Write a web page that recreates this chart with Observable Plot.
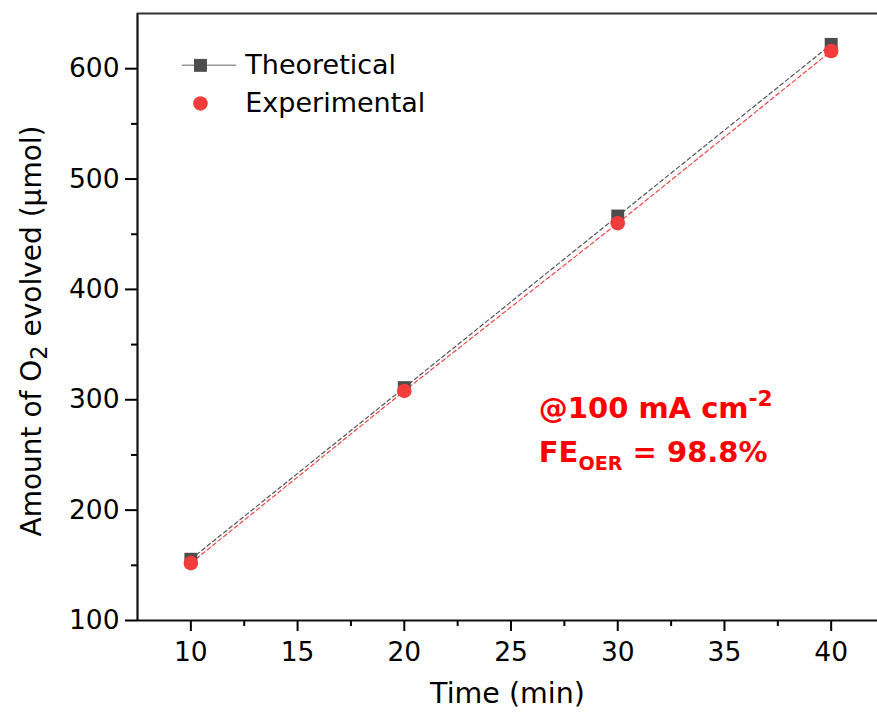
<!DOCTYPE html>
<html>
<head>
<meta charset="utf-8">
<script src="https://cdn.jsdelivr.net/npm/d3@7"></script>
<script src="https://cdn.jsdelivr.net/npm/@observablehq/plot@0.6"></script>
<style>
  body { margin: 0; background: #fff; }
  #chart svg { display: block; }
</style>
</head>
<body>
<div id="chart"></div>
<script>
// Electrolysis time (min) and O2 amounts (µmol)
const times = [10, 20, 30, 40];
const theoretical = [155.5, 311, 466.5, 622];
const experimental = [152, 308, 460, 616];

// Axis ticks
const xTickValues = [10, 15, 20, 25, 30, 35, 40];
const xMinorTicks = [12.5, 17.5, 22.5, 27.5, 32.5, 37.5];
const yTickValues = [100, 200, 300, 400, 500, 600];
const yMinorTicks = [150, 250, 350, 450, 550];

// Texts (_{..} = subscript, ^{..} = superscript)
const seriesNames = ["Theoretical", "Experimental"];
const xLabel = "Time (min)";
const yLabel = "Amount of O_{2} evolved (μmol)";
const noteLines = ["@100 mA cm^{-2}", "FE_{OER} = 98.8%"];

const theoData = times.map((t, i) => ({time: t, amount: theoretical[i]}));
const expData = times.map((t, i) => ({time: t, amount: experimental[i]}));

// Legend rows, anchored in data space at the top-left corner of the frame
const legendRows = [
  {name: seriesNames[0], y: 603},
  {name: seriesNames[1], y: 568.5}
];
const legendLine = [{time: 9.6, amount: 603}, {time: 12.1, amount: 603}];

const notes = [
  {text: noteLines[0], time: 26.3, amount: 292},
  {text: noteLines[1], time: 26.3, amount: 252}
];

const grey = "#4d4d4d";
const red = "#f23c3c";

const plot = Plot.plot({
  width: 877,
  height: 717,
  marginLeft: 137,
  marginRight: 0,
  marginTop: 13,
  marginBottom: 97,
  style: {fontFamily: "'DejaVu Sans', sans-serif", color: "#000", background: "#fff"},
  x: {domain: [7.5, 42.17]},
  y: {domain: [100, 650]},
  marks: [
    // axes
    Plot.axisX({ticks: xTickValues, tickSize: 11, tickPadding: 11, fontSize: 26.5, strokeWidth: 2, label: null}),
    Plot.axisX(xMinorTicks, {tickSize: 6, tickFormat: () => "", strokeWidth: 2, label: null}),
    Plot.axisY({ticks: yTickValues, tickSize: 12, tickPadding: 6, fontSize: 26.5, strokeWidth: 2, label: null}),
    Plot.axisY(yMinorTicks, {tickSize: 6, tickFormat: () => "", strokeWidth: 2, label: null}),
    Plot.ruleX([7.5], {stroke: "#111", strokeWidth: 2.2}),
    Plot.ruleY([100], {stroke: "#111", strokeWidth: 2.2}),
    Plot.ruleY([650], {stroke: "#333", strokeWidth: 2}),

    // dashed connecting lines
    Plot.line(theoData, {x: "time", y: "amount", stroke: "#555", strokeWidth: 1.2, strokeDasharray: "4,3"}),
    Plot.line(expData, {x: "time", y: "amount", stroke: "#f04545", strokeWidth: 1.2, strokeDasharray: "4,3"}),

    // markers
    Plot.dot(theoData, {x: "time", y: "amount", symbol: "square", r: 7.3, fill: grey}),
    Plot.dot(expData, {x: "time", y: "amount", symbol: "circle", r: 7.3, fill: red}),

    // legend
    Plot.line(legendLine, {x: "time", y: "amount", stroke: "#999", strokeWidth: 1.5}),
    Plot.dot([legendRows[0]], {x: () => 10.45, y: "y", symbol: "square", r: 7.3, fill: grey}),
    Plot.dot([legendRows[1]], {x: () => 10.45, y: "y", symbol: "circle", r: 7.3, fill: red}),
    Plot.text(legendRows, {x: () => 12.55, y: "y", text: "name", textAnchor: "start", lineAnchor: "middle", fontSize: 27, fill: "#000"}),

    // annotation
    Plot.text(notes, {x: "time", y: "amount", text: "text", textAnchor: "start", lineAnchor: "middle", fontSize: 29, fontWeight: "bold", fill: "#ff0000", className: "rich-note"}),

    // axis titles
    Plot.text([xLabel], {frameAnchor: "bottom", dy: 73, text: d => d, textAnchor: "middle", lineAnchor: "middle", fontSize: 28.5, fill: "#000"}),
    Plot.text([yLabel], {frameAnchor: "left", dx: -105, dy: 14, rotate: -90, text: d => d, textAnchor: "middle", lineAnchor: "middle", fontSize: 28, fill: "#000", className: "rich-ylabel"})
  ]
});

// Render _{..} and ^{..} markup as sub/superscript tspans
function richText(selection, base, subScale, subShift, supShift) {
  selection.each(function() {
    const el = d3.select(this);
    const raw = this.textContent;
    const parts = raw.split(/(_\{[^}]*\}|\^\{[^}]*\})/).filter(s => s.length);
    el.text(null);
    let offset = 0;
    for (const p of parts) {
      let dy, size, content;
      if (p.startsWith("_{")) { content = p.slice(2, -1); dy = subShift; size = base * subScale; }
      else if (p.startsWith("^{")) { content = p.slice(2, -1); dy = -supShift; size = base * 0.75; }
      else { content = p; dy = 0; size = null; }
      const ts = el.append("tspan").text(content).attr("dy", (dy - offset) + "px");
      if (size) ts.attr("font-size", size + "px");
      offset = dy;
    }
  });
}
const svg = d3.select(plot);
richText(svg.selectAll(".rich-note text"), 29, 0.66, 8, 12);
richText(svg.selectAll(".rich-ylabel text"), 28, 0.8, 6, 10);

document.getElementById("chart").appendChild(plot);
</script>
</body>
</html>
